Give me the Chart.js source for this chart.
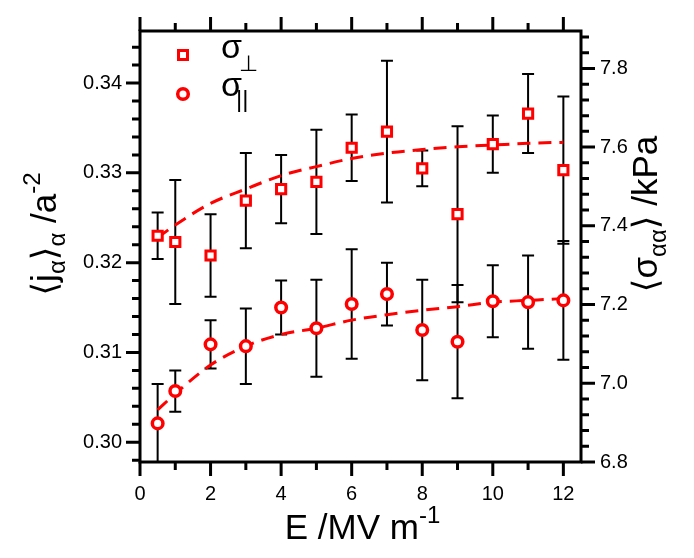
<!DOCTYPE html>
<html>
<head>
<meta charset="utf-8">
<script src="https://cdn.jsdelivr.net/npm/chart.js@4.4.0/dist/chart.umd.min.js"></script>
<style>
  html, body { margin: 0; padding: 0; background: #fff; }
  canvas { display: block; }
</style>
</head>
<body>
<canvas id="chart" width="694" height="558"></canvas>
<script>
var fieldE = [0.5, 1, 2, 3, 4, 5, 6, 7, 8, 9, 10, 11, 12];

// <j> for sigma perpendicular (squares) and sigma parallel (circles)
var jPerp    = [0.3230, 0.3223, 0.3208, 0.3269, 0.3282, 0.3290, 0.3328, 0.3346, 0.3305, 0.3254, 0.3332, 0.3366, 0.3303];
var jPerpErr = [0.0026, 0.0069, 0.0046, 0.0053, 0.0038, 0.0058, 0.0037, 0.0079, 0.0020, 0.0098, 0.0032, 0.0044, 0.0082];
var jPar     = [0.3021, 0.3057, 0.3109, 0.3107, 0.3150, 0.3127, 0.3154, 0.3165, 0.3125, 0.3112, 0.3157, 0.3156, 0.3158];
var jParErr  = [0.0044, 0.0023, 0.0027, 0.0042, 0.0030, 0.0054, 0.0061, 0.0035, 0.0056, 0.0063, 0.0040, 0.0052, 0.0066];

// dashed fit curves
var fitPerp = [0.3228, 0.3242, 0.3266, 0.3282, 0.3297, 0.3307, 0.3316, 0.3322, 0.3326, 0.3329, 0.3331, 0.3333, 0.3334];
var fitPar  = [0.3036, 0.3054, 0.3086, 0.3107, 0.3120, 0.3127, 0.3136, 0.3142, 0.3147, 0.3151, 0.3156, 0.3158, 0.3160];

var xTickValues = [0, 2, 4, 6, 8, 10, 12];
var leftTickValues = [0.30, 0.31, 0.32, 0.33, 0.34];
var rightTickValues = [6.8, 7.0, 7.2, 7.4, 7.6, 7.8];

var RED = '#ff0000';
var FONT = "'Liberation Sans', Arial, 'DejaVu Sans', sans-serif";

function pts(ys) {
  return fieldE.map(function(x, i) { return {x: x, y: ys[i]}; });
}

function setTicks(values) {
  return function(scale) {
    scale.ticks = values.map(function(v) { return {value: v}; });
  };
}

// draws a run of text pieces (normal / sub / sup) starting at x,y
function richText(ctx, parts, x, y, size, center) {
  var widths = parts.map(function(p) {
    ctx.font = Math.round(size * (p.s || 1)) + 'px ' + FONT;
    return ctx.measureText(p.t).width;
  });
  var total = widths.reduce(function(a, b) { return a + b; }, 0);
  var cx = center ? x - total / 2 : x;
  parts.forEach(function(p, i) {
    ctx.font = Math.round(size * (p.s || 1)) + 'px ' + FONT;
    ctx.fillText(p.t, cx, y + (p.dy || 0) * size);
    cx += widths[i];
  });
}

var decorations = {
  id: 'decorations',
  beforeDatasetsDraw: function(chart) {
    var ctx = chart.ctx, xs = chart.scales.x, ys = chart.scales.y, a = chart.chartArea;
    ctx.save();
    ctx.beginPath();
    ctx.rect(a.left, a.top, a.right - a.left, a.bottom - a.top);
    ctx.clip();
    ctx.strokeStyle = '#000';
    ctx.lineWidth = 2;
    [[jPerp, jPerpErr], [jPar, jParErr]].forEach(function(s) {
      for (var i = 0; i < fieldE.length; i++) {
        var px = xs.getPixelForValue(fieldE[i]);
        var top = ys.getPixelForValue(s[0][i] + s[1][i]);
        var bot = ys.getPixelForValue(s[0][i] - s[1][i]);
        ctx.beginPath();
        ctx.moveTo(px, top); ctx.lineTo(px, bot);
        ctx.moveTo(px - 6, top); ctx.lineTo(px + 6, top);
        ctx.moveTo(px - 6, bot); ctx.lineTo(px + 6, bot);
        ctx.stroke();
      }
    });
    ctx.restore();
  },
  afterDraw: function(chart) {
    var ctx = chart.ctx, a = chart.chartArea;
    var xs = chart.scales.x, ys = chart.scales.y, y2 = chart.scales.y2;
    ctx.save();
    ctx.strokeStyle = '#000';
    ctx.lineWidth = 3;
    ctx.strokeRect(a.left, a.top, a.right - a.left, a.bottom - a.top);

    ctx.lineWidth = 3;
    ctx.beginPath();
    var v, p, len;
    for (v = 0; v <= 12; v += 1) {
      p = xs.getPixelForValue(v);
      len = (v % 2 === 0) ? 14 : 8;
      ctx.moveTo(p, a.bottom); ctx.lineTo(p, a.bottom + len);
      ctx.moveTo(p, a.top); ctx.lineTo(p, a.top - len);
    }
    for (var k = 149; k <= 172; k++) {
      v = k * 0.002;
      p = ys.getPixelForValue(v);
      len = (k % 5 === 0) ? 14 : 8;
      ctx.moveTo(a.left, p); ctx.lineTo(a.left - len, p);
    }
    for (k = 0; k <= 27; k++) {
      v = 6.8 + k * 0.04;
      p = y2.getPixelForValue(v);
      len = (k % 5 === 0) ? 14 : 8;
      ctx.moveTo(a.right, p); ctx.lineTo(a.right + len, p);
    }
    ctx.stroke();

    // axis titles
    ctx.fillStyle = '#000';
    ctx.textBaseline = 'alphabetic';
    ctx.textAlign = 'left';
    richText(ctx, [
      {t: 'E /MV m'},
      {t: '-1', s: 0.68, dy: -0.45}
    ], (a.left + a.right) / 2 + 2, 539, 35, true);

    ctx.save();
    ctx.translate(56, 234);
    ctx.rotate(-Math.PI / 2);
    richText(ctx, [
      {t: '\u27e8j'},
      {t: '\u03b1', s: 0.68, dy: 0.25},
      {t: '\u27e9'},
      {t: '\u03b1', s: 0.68, dy: 0.25},
      {t: ' /a'},
      {t: '-2', s: 0.68, dy: -0.45}
    ], 0, 0, 35, true);
    ctx.restore();

    ctx.save();
    ctx.translate(657, 214);
    ctx.rotate(-Math.PI / 2);
    richText(ctx, [
      {t: '\u27e8\u03c3'},
      {t: '\u03b1\u03b1', s: 0.68, dy: 0.25},
      {t: '\u27e9 /kPa'}
    ], 0, 0, 35, true);
    ctx.restore();

    // legend
    ctx.strokeStyle = RED;
    ctx.fillStyle = '#fff';
    ctx.lineWidth = 3;
    ctx.fillRect(178.5, 50.5, 9, 9);
    ctx.strokeRect(178.5, 50.5, 9, 9);
    ctx.lineWidth = 3.5;
    ctx.beginPath();
    ctx.arc(183, 94, 5.3, 0, Math.PI * 2);
    ctx.fill();
    ctx.stroke();

    ctx.fillStyle = '#000';
    richText(ctx, [{t: '\u03c3'}], 221, 58, 34, false);
    ctx.font = '22px ' + FONT;
    ctx.fillText('\u22a5', 239, 71);
    richText(ctx, [{t: '\u03c3'}], 221, 96, 34, false);
    ctx.font = '24px ' + FONT;
    ctx.fillText('||', 236, 107);
    ctx.restore();
  }
};

new Chart(document.getElementById('chart'), {
  type: 'scatter',
  data: {
    datasets: [
      {
        data: pts(jPerp),
        pointStyle: 'rect',
        pointRadius: 6.5,
        pointBorderWidth: 3,
        pointBorderColor: RED,
        pointBackgroundColor: '#fff',
        showLine: false
      },
      {
        data: pts(jPar),
        pointStyle: 'circle',
        pointRadius: 5.3,
        pointBorderWidth: 3.5,
        pointBorderColor: RED,
        pointBackgroundColor: '#fff',
        showLine: false
      },
      {
        data: pts(fitPerp),
        showLine: true,
        pointRadius: 0,
        borderColor: RED,
        borderWidth: 3,
        borderDash: [13, 8],
        cubicInterpolationMode: 'monotone'
      },
      {
        data: pts(fitPar),
        showLine: true,
        pointRadius: 0,
        borderColor: RED,
        borderWidth: 3,
        borderDash: [13, 8],
        cubicInterpolationMode: 'monotone'
      }
    ]
  },
  options: {
    responsive: false,
    animation: false,
    devicePixelRatio: 1,
    layout: { padding: { top: 21 } },
    plugins: { legend: { display: false }, tooltip: { enabled: false } },
    scales: {
      x: {
        type: 'linear', position: 'bottom', min: 0, max: 12.5,
        grid: { display: false, drawTicks: false },
        border: { display: false },
        afterBuildTicks: setTicks(xTickValues),
        afterFit: function(s) { s.height = 96; },
        ticks: { color: '#000', font: { family: FONT, size: 20 }, padding: 20,
          callback: function(v) { return String(v); } }
      },
      y: {
        type: 'linear', position: 'left', min: 0.2978, max: 0.3458,
        grid: { display: false, drawTicks: false },
        border: { display: false },
        afterBuildTicks: setTicks(leftTickValues),
        afterFit: function(s) { s.width = 140; },
        ticks: { color: '#000', font: { family: FONT, size: 20 }, padding: 18,
          callback: function(v) { return v.toFixed(2); } }
      },
      y2: {
        type: 'linear', position: 'right', min: 6.8, max: 7.895,
        grid: { display: false, drawTicks: false },
        border: { display: false },
        afterBuildTicks: setTicks(rightTickValues),
        afterFit: function(s) { s.width = 113; },
        ticks: { color: '#000', font: { family: FONT, size: 20 }, padding: 19,
          callback: function(v) { return v.toFixed(1); } }
      }
    }
  },
  plugins: [decorations]
});
</script>
</body>
</html>
